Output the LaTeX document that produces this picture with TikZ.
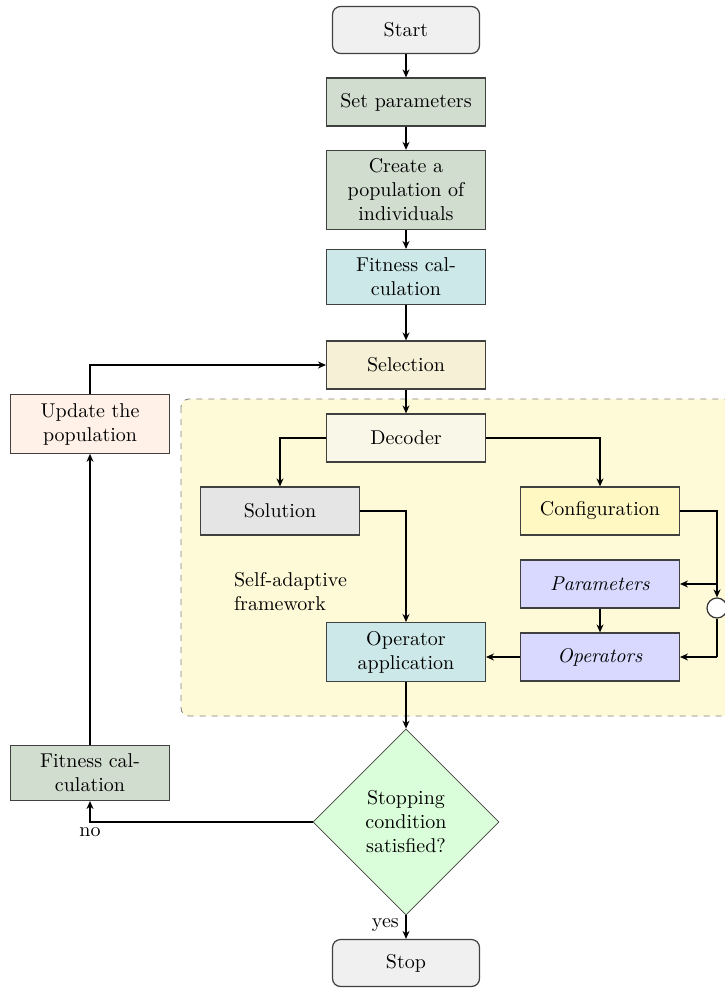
\documentclass[tikz,border=0pt]{standalone}
\usetikzlibrary{shapes.geometric,arrows.meta}
\definecolor{cstart}{HTML}{F0F0F0}
\definecolor{cgreen}{HTML}{D1DDCF}
\definecolor{ccyan}{HTML}{CDE8E8}
\definecolor{csel}{HTML}{F6F1D6}
\definecolor{cdec}{HTML}{F9F8E8}
\definecolor{csol}{HTML}{E5E5E5}
\definecolor{cconf}{HTML}{FFF8C2}
\definecolor{cpar}{HTML}{D9D9FF}
\definecolor{cupd}{HTML}{FFF1E8}
\definecolor{cdia}{HTML}{D9FED9}
\definecolor{cframe}{HTML}{FEF9D7}
\begin{document}
\begin{tikzpicture}[x=0.5pt,y=-0.5pt,
  box/.style={draw=black!75, semithick, text width=71pt, align=center, inner sep=4.2pt, minimum height=24pt},
  term/.style={draw=black!75, semithick, rounded corners=4pt, fill=cstart, minimum width=73.5pt, minimum height=23.5pt, align=center},
  arr/.style={semithick, -{Stealth[length=4pt,width=3.5pt]}},
  ln/.style={semithick}]
\useasboundingbox (0,0) rectangle (724,990);
% framework background
\draw[black!50, dashed, fill=cframe, rounded corners=4pt] (181,399) rectangle (760,716);
\node[anchor=west, align=left] (fw) at (227,592) {Self-adaptive\\framework};

\node[term] (start) at (406,30) {Start};
\node[box, fill=cgreen] (setp) at (406,102) {Set parameters};
\node[box, fill=cgreen] (create) at (406,190) {Create a population of individuals};
\node[box, fill=ccyan] (fit1) at (406,277) {Fitness cal-\\culation};
\node[box, fill=csel] (sel) at (406,365) {Selection};
\node[box, fill=cdec] (dec) at (406,438) {Decoder};
\node[box, fill=csol] (sol) at (280,511) {Solution};
\node[box, fill=cconf] (conf) at (600,511) {Configuration};
\node[box, fill=cpar] (par) at (600,584) {\textit{Parameters}};
\node[box, fill=cpar] (ops) at (600,657) {\textit{Operators}};
\node[box, fill=ccyan] (opapp) at (406,652) {Operator application};
\node[draw=black!80, semithick, circle, fill=white, minimum size=10pt, inner sep=0pt] (circ) at (717,608) {};
\node[draw=black!75, diamond, aspect=1, fill=cdia, minimum size=93pt, inner sep=0pt, text width=55pt, align=center] (stopc) at (406,822) {Stopping condition satisfied?};
\node[term] (stop) at (406,963) {Stop};
\node[box, fill=cgreen] (fit2) at (90,773) {Fitness cal-\\culation};
\node[box, fill=cupd] (upd) at (90,424) {Update the population};

\coordinate (cb) at (717,584);
\coordinate (cd) at (717,657);
\coordinate (nocorner) at (90,822);

\draw[arr] (start) -- (setp);
\draw[arr] (setp) -- (create);
\draw[arr] (create) -- (fit1);
\draw[arr] (fit1) -- (sel);
\draw[arr] (sel) -- (dec);
\draw[arr] (dec.west) -| (sol.north);
\draw[arr] (dec.east) -| (conf.north);
\draw[arr] (sol.east) -| (opapp.north);
\draw[arr] (conf.east) -| (circ.north);
\draw[arr] (cb) -- (par.east);
\draw[ln] (circ.south) -- (cd);
\draw[arr] (cd) -- (ops.east);
\draw[arr] (par) -- (ops);
\draw[arr] (ops.west) -- (opapp.east |- ops.west);
\draw[arr] (opapp) -- (stopc.north);
\draw[arr] (stopc.south) -- node[left, pos=0.4] {yes} (stop);
\draw[arr] (stopc.west) -- (nocorner) -- (fit2.south);
\node[below, yshift=1pt] (nolab) at (nocorner) {no};
\draw[arr] (fit2.north) -- (upd.south);
\draw[arr] (upd.north) |- (sel.west);
\end{tikzpicture}
\end{document}
